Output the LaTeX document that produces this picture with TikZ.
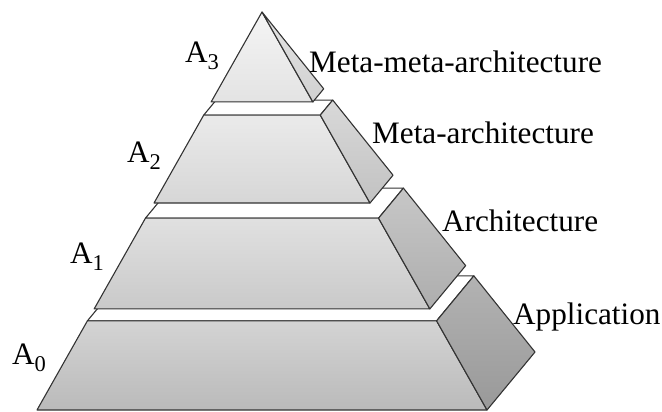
\documentclass[tikz,border=0pt]{standalone}
\usepackage{fontspec}
\setmainfont{Liberation Serif}
\usetikzlibrary{calc}
\tikzset{
  edge/.style={draw=black!80, line width=1.1pt, line join=round},
  lbl/.style={anchor=base west, inner sep=0pt, font=\fontsize{31.2}{36}\selectfont},
}
\newcommand\pyrlayer[6]{%
  \ifdim #1pt>0pt
  \path[edge, fill=white] ($(A)!#1!(FL)$) -- ($(A)!#1!(BL)$) -- ($(A)!#1!(BR)$) -- ($(A)!#1!(FR)$) -- cycle;
  \fi
  \path[edge, top color=#3, bottom color=#4] ($(A)!#1!(FL)$) -- ($(A)!#1!(FR)$) -- ($(A)!#2!(FR)$) -- ($(A)!#2!(FL)$) -- cycle;
  \path[edge, top color=#5, bottom color=#6] ($(A)!#1!(FR)$) -- ($(A)!#1!(BR)$) -- ($(A)!#2!(BR)$) -- ($(A)!#2!(FR)$) -- cycle;
}
\newcommand\Asub[1]{A{\fontsize{22.5}{24}\selectfont\raisebox{-7pt}{#1}}}
\begin{document}
\begin{tikzpicture}[x=1pt,y=-1pt]
\useasboundingbox (0,0) rectangle (662,412);
\coordinate (A) at (262,12);
\coordinate (FL) at (37,410);
\coordinate (FR) at (487,410);
\coordinate (BR) at (535,352);
\coordinate (BL) at (85,352);
\pyrlayer{0.776}{1}{black!17}{black!27}{black!30}{black!40}
\pyrlayer{0.518}{0.746}{black!12}{black!21}{black!22}{black!32}
\pyrlayer{0.259}{0.480}{black!8}{black!16}{black!15}{black!24}
\pyrlayer{0}{0.226}{black!4}{black!11}{black!11}{black!18}
\node[lbl] (a3) at (185,63) {\Asub{3}};
\node[lbl] (a2) at (127,162) {\Asub{2}};
\node[lbl] (a1) at (70,263) {\Asub{1}};
\node[lbl] (a0) at (12,364) {\Asub{0}};
\node[lbl] (mma) at (309,73) {Meta-meta-architecture};
\node[lbl] (ma) at (372,143) {Meta-architecture};
\node[lbl] (ar) at (442,231) {Architecture};
\node[lbl] (ap) at (513,324) {Application};
\end{tikzpicture}
\end{document}
